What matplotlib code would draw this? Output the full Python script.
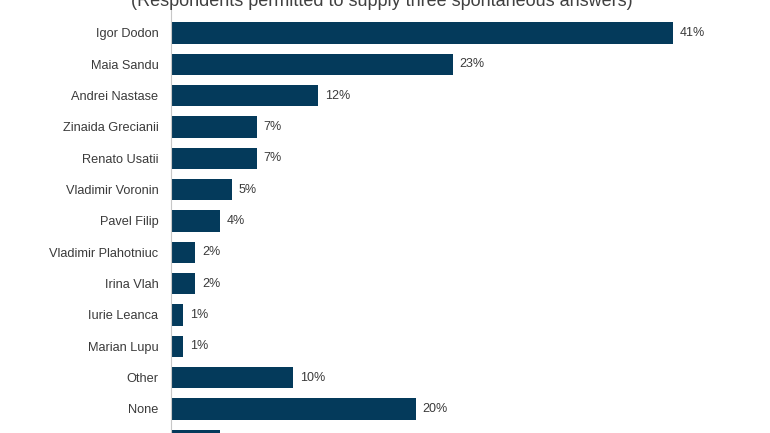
import matplotlib
matplotlib.use("Agg")
import matplotlib.pyplot as plt

# datos
candidatos = ["Igor Dodon", "Maia Sandu", "Andrei Nastase", "Zinaida Grecianii",
              "Renato Usatii", "Vladimir Voronin", "Pavel Filip", "Vladimir Plahotniuc",
              "Irina Vlah", "Iurie Leanca", "Marian Lupu", "Other", "None",
              "Don't know"]
porcentajes = [41, 23, 12, 7, 7, 5, 4, 2, 2, 1, 1, 10, 20, 4]
etiquetas = [f"{v}%" for v in porcentajes]

color_barra = "#043a5b"
color_texto = "#3a3a3a"

plt.rcParams["font.family"] = ["Liberation Sans", "DejaVu Sans"]

fig = plt.figure(figsize=(7.7, 4.33), dpi=100)
ax = fig.add_axes([171 / 770, 0, 599 / 770, 1])

y_min, y_max = -1.053, 12.767

posiciones = list(range(len(candidatos)))
ax.barh(posiciones, porcentajes, height=0.68, color=color_barra)

# solo las etiquetas de las barras que quedan dentro del area visible
for y, v, txt in zip(posiciones, porcentajes, etiquetas):
    if y < y_max - 0.3:
        ax.text(v + 0.55, y, txt, va="center", ha="left", fontsize=9, color=color_texto)

ax.set_yticks(posiciones)
ax.set_yticklabels(candidatos, fontsize=9.2, color=color_texto)
ax.tick_params(axis="y", length=0, pad=9)
ax.set_xticks([])

ax.set_xlim(0, 599 / 12.24)
ax.set_ylim(y_max, y_min)

for lado in ["top", "right", "bottom"]:
    ax.spines[lado].set_visible(False)
ax.spines["left"].set_color("#c8c8c8")
ax.spines["left"].set_linewidth(0.8)

fig.text(382 / 770, 1 - 2 / 433, "(Respondents permitted to supply three spontaneous answers)",
         ha="center", va="center", fontsize=13, color="#404040")

fig.savefig("out.png", dpi=100)
